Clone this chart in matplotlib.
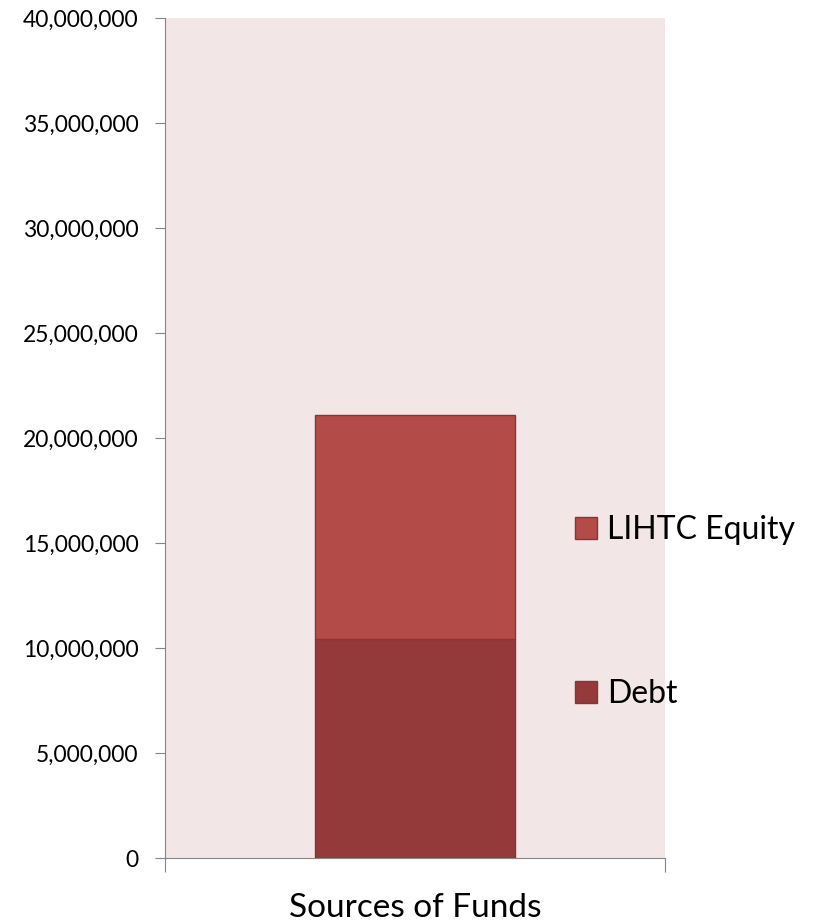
"""Stacked column: sources of funds (debt + LIHTC equity)."""

import matplotlib

matplotlib.use("Agg")
import matplotlib.pyplot as plt
from matplotlib.patches import Patch
from matplotlib.ticker import FuncFormatter

category = ["Sources of Funds"]
series_names = ["Debt", "LIHTC Equity"]
debt = [10_420_000]
lihtc_equity = [10_660_000]
y_ticks = list(range(0, 40_000_001, 5_000_000))

colors = {"Debt": "#953A3B", "LIHTC Equity": "#B34B48"}
edge = "#8A3432"

plt.rcParams["font.family"] = ["Lato", "DejaVu Sans"]

fig = plt.figure(figsize=(8.15, 9.23), dpi=100)
ax = fig.add_axes([0.2025, 0.0704, 0.6135, 0.9101])
ax.set_facecolor("#F2E7E6")

x = [0]
ax.bar(x, debt, width=0.4, color=colors["Debt"], edgecolor=edge, linewidth=1)
ax.bar(x, lihtc_equity, width=0.4, bottom=debt, color=colors["LIHTC Equity"],
       edgecolor=edge, linewidth=1)

ax.set_xlim(-0.5, 0.5)
ax.set_ylim(0, 40_000_000)
ax.set_yticks(y_ticks)
ax.yaxis.set_major_formatter(FuncFormatter(lambda v, _: f"{int(v):,}"))
ax.tick_params(axis="y", labelsize=16.5, length=7, color="#868686", pad=12)

# category boundaries as major ticks, the category name as a minor tick label
ax.set_xticks([-0.5, 0.5])
ax.set_xticklabels(["", ""])
ax.set_xticks(x, minor=True)
ax.set_xticklabels(category, minor=True, fontsize=24)
ax.tick_params(axis="x", which="major", length=10, color="#868686")
ax.tick_params(axis="x", which="minor", length=0, pad=25)

for side in ("top", "right"):
    ax.spines[side].set_visible(False)
for side in ("left", "bottom"):
    ax.spines[side].set_color("#868686")

handles = [Patch(facecolor=colors[n], edgecolor=edge) for n in reversed(series_names)]
fig.legend(handles, list(reversed(series_names)), loc="center left",
           bbox_to_anchor=(0.7055, 0.3365), frameon=False, fontsize=23,
           borderpad=0, borderaxespad=0, labelspacing=4.2,
           handlelength=0.69, handleheight=0.69, handletextpad=0.31)

fig.savefig("out.png", facecolor="white")
